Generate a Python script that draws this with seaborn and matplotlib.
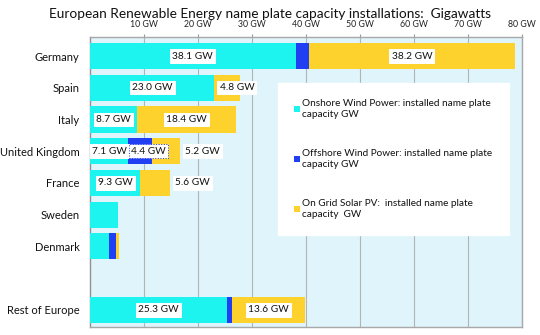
import numpy as np
import pandas as pd
import matplotlib
matplotlib.use("Agg")
import matplotlib.pyplot as plt
import seaborn as sns
from matplotlib.patches import Patch

# ---- data ----
countries = ["Germany", "Spain", "Italy", "United Kingdom", "France",
             "Sweden", "Denmark", " ", "Rest of Europe"]
onshore = [38.1, 23.0, 8.7, 7.1, 9.3, 5.2, 3.6, 0.0, 25.3]
offshore = [2.4, 0.0, 0.0, 4.4, 0.0, 0.0, 1.2, 0.0, 1.0]
solar = [38.2, 4.8, 18.4, 5.2, 5.6, 0.0, 0.6, 0.0, 13.6]
labelled_countries = ["Germany", "Spain", "Italy", "United Kingdom", "France", "Rest of Europe"]
xticks = [10, 20, 30, 40, 50, 60, 70, 80]
xtick_labels = ["10 GW", "20 GW", "30 GW", "40 GW", "50 GW", "60 GW", "70 GW", "80 GW"]
title = "European Renewable Energy name plate capacity installations:  Gigawatts"
legend_labels = ["Onshore Wind Power: installed name plate\ncapacity GW",
                 "Offshore Wind Power: installed name plate\ncapacity GW",
                 "On Grid Solar PV:  installed name plate\ncapacity  GW"]

# ---- styling ----
c_on = "#1ef4ef"
c_off = "#203ff2"
c_sol = "#fdd22c"
bg = "#dff4fb"
grid_c = "#b4b4b4"

sns.set_style("white")
plt.rcParams["font.family"] = ["Lato", "DejaVu Sans"]

df = pd.DataFrame({"country": countries, "onshore": onshore,
                   "offshore": offshore, "solar": solar})
df["c1"] = df["onshore"]
df["c2"] = df["onshore"] + df["offshore"]
df["c3"] = df["c2"] + df["solar"]

fig = plt.figure(figsize=(5.4, 3.35), dpi=100)
ax = fig.add_axes([90 / 540, 1 - 327 / 335, 432 / 540, 290 / 335])
ax.set_facecolor(bg)

bw = 0.82
for col, colr in [("c3", c_sol), ("c2", c_off), ("c1", c_on)]:
    sns.barplot(data=df, x=col, y="country", order=countries, orient="y",
                color=colr, width=bw, saturation=1, linewidth=0, ax=ax, zorder=3)

ax.set_xlim(0, 80)
ax.set_ylim(len(countries) - 1 + 0.54, -0.6)
ax.set_xlabel("")
ax.set_ylabel("")
ax.set_xticks(xticks)
ax.set_xticklabels(xtick_labels)
ax.xaxis.tick_top()
ax.tick_params(axis="x", length=2.5, width=0.8, color="#999999", labelsize=6.3,
               pad=3.5, labelcolor="#222222")
ax.tick_params(axis="y", length=0, pad=7.5, labelsize=8.0, labelcolor="#111111")
ax.grid(axis="x", color=grid_c, linewidth=0.8, zorder=0)
ax.grid(axis="y", visible=False)
ax.set_axisbelow(True)
for s in ax.spines.values():
    s.set_color("#a8a8a8")
    s.set_linewidth(1.0)
    s.set_visible(True)
ax.spines["left"].set_color("#909090")

# ---- value labels ----
shift = {("Spain", "solar"): 1.8, ("United Kingdom", "offshore"): 1.6,
         ("United Kingdom", "solar"): 6.7, ("France", "solar"): 6.9}
for i, row in df.iterrows():
    if row["country"] not in labelled_countries:
        continue
    segs = [("onshore", 0.0, row["onshore"]),
            ("offshore", row["c1"], row["offshore"]),
            ("solar", row["c2"], row["solar"])]
    for name, start, val in segs:
        if val <= 0:
            continue
        if name == "offshore" and val < 3:
            continue
        x = start + val / 2 + shift.get((row["country"], name), 0.0)
        edge = c_off if name == "offshore" else "white"
        ls = ":" if name == "offshore" else "-"
        ax.text(x, i, f"{val:.1f} GW", ha="center", va="center", fontsize=7.3,
                color="#111111", zorder=5,
                bbox=dict(boxstyle="square,pad=0.22", facecolor="white",
                          edgecolor=edge, linestyle=ls, linewidth=0.7))

# ---- legend ----
handles = [Patch(facecolor=c, edgecolor="none") for c in (c_on, c_off, c_sol)]
leg = ax.legend(handles, legend_labels, loc="upper left",
                bbox_to_anchor=((278 - 90) / 432, (327 - 83) / 290),
                frameon=True, fancybox=False, fontsize=7.2, handlelength=0.55,
                handleheight=0.55, handletextpad=0.3, labelspacing=3.0,
                borderpad=1.6, borderaxespad=0)
leg.get_frame().set_facecolor("white")
leg.get_frame().set_edgecolor("white")
leg.get_frame().set_alpha(1)
leg.set_zorder(6)
for t in leg.get_texts():
    t.set_color("#111111")
    t.set_linespacing(1.3)

fig.text(0.5, 1 - 14 / 335, title, ha="center", va="center", fontsize=9.8,
         color="#111111")

fig.savefig("out.png", dpi=100, facecolor="white")
